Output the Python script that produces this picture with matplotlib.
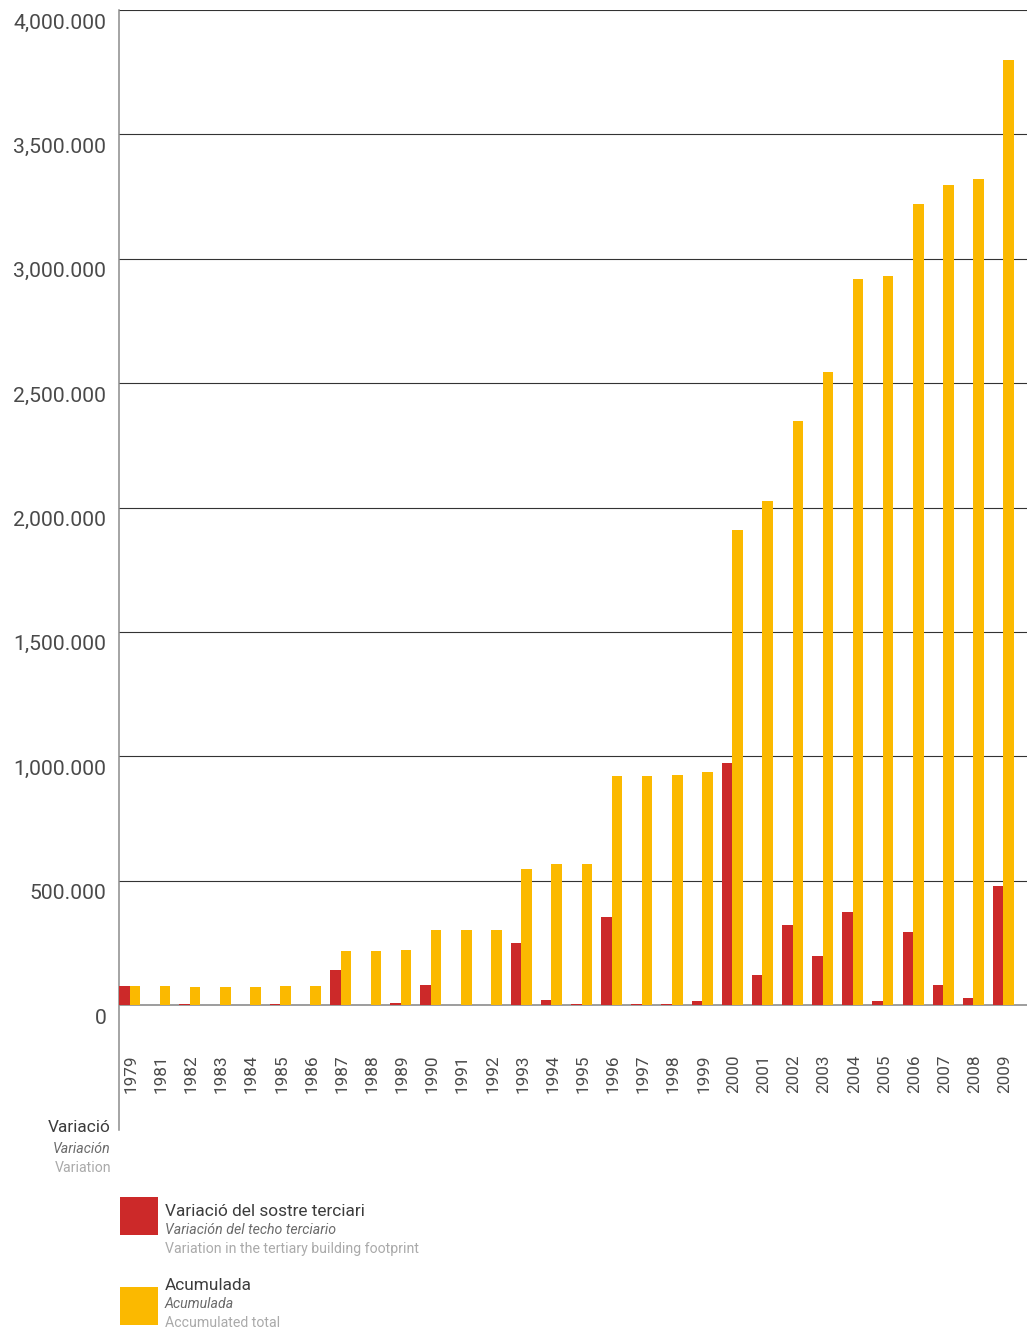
import matplotlib
matplotlib.use("Agg")
import matplotlib.pyplot as plt
from matplotlib.patches import Rectangle
from matplotlib.transforms import ScaledTranslation
import numpy as np

# Years shown on the x axis (1980 is absent in the series)
years = ["1979", "1981", "1982", "1983", "1984", "1985", "1986", "1987", "1988",
         "1989", "1990", "1991", "1992", "1993", "1994", "1995", "1996", "1997",
         "1998", "1999", "2000", "2001", "2002", "2003", "2004", "2005", "2006",
         "2007", "2008", "2009"]

# Yearly variation of tertiary floor space (m2)
variacio = [76000, 1500, 3000, 1000, 1000, 3000, 1000, 141000, 1000,
            8000, 80000, 1000, 1000, 249000, 20000, 3000, 354000, 3000,
            3000, 16000, 973000, 121000, 322000, 197000, 374000, 16000, 293000,
            80000, 28000, 478000]

# Accumulated total (m2)
acumulada = [76000, 76000, 72000, 72000, 72000, 76000, 76000, 217000, 217000,
             221000, 301000, 301000, 301000, 547000, 567000, 567000, 921000, 921000,
             925000, 937000, 1910000, 2026000, 2348000, 2545000, 2919000, 2931000, 3220000,
             3296000, 3321000, 3799000]

ytick_values = [0, 500000, 1000000, 1500000, 2000000, 2500000, 3000000, 3500000, 4000000]
ytick_labels = ["0", "500.000", "1,000.000", "1,500.000", "2,000.000",
                "2,500.000", "3,000.000", "3,500.000", "4,000.000"]

RED = "#CC2929"
YELLOW = "#FBB900"
FONT = "Roboto"
TXT = "#4a4a4a"

W, H = 1035, 1333
fig = plt.figure(figsize=(W / 100, H / 100), dpi=100)
fig.patch.set_facecolor("white")


def fx(px):
    return px / W


def fy(py):
    return 1 - py / H


ax = fig.add_axes([fx(119), fy(1130), fx(1027) - fx(119), (1130 - 10) / H])
ax.set_facecolor("white")

x = np.arange(len(years))
bw = 0.35
ax.bar(x - bw / 2, variacio, width=bw, color=RED, zorder=3, linewidth=0)
ax.bar(x + bw / 2, acumulada, width=bw, color=YELLOW, zorder=3, linewidth=0)

ax.set_xlim(-0.35, 29.78)
ax.set_ylim(-502500, 4000000)

# horizontal reference lines
for v in ytick_values[1:]:
    ax.axhline(v, color="#333333", linewidth=0.8, zorder=1)
ax.axhline(0, color="#8c8c8c", linewidth=1.2, zorder=2)

for s in ["top", "right", "bottom"]:
    ax.spines[s].set_visible(False)
ax.spines["left"].set_color("#8c8c8c")
ax.spines["left"].set_linewidth(1.1)

ax.set_xticks([])
ax.set_yticks(ytick_values)
ax.set_yticklabels(ytick_labels, fontfamily=FONT, fontweight="normal",
                   fontsize=15.2, color=TXT)
ax.tick_params(axis="y", length=0, pad=9)
offset = ScaledTranslation(0, -0.185, fig.dpi_scale_trans)
for lab in ax.get_yticklabels():
    lab.set_va("baseline")
    lab.set_transform(lab.get_transform() + offset)

# year labels, rotated and anchored at their start
y_year = -(1093 - 1005) / 995 * 4000000
for i, yr in enumerate(years):
    ax.text(i + 0.05, y_year, yr, rotation=90, ha="center", va="bottom",
            fontfamily=FONT, fontweight="normal", fontsize=12.3, color=TXT)

# axis caption below the y axis
fig.text(fx(111), fy(1128), "Variació", ha="right", va="center",
         fontfamily=FONT, fontweight="normal", fontsize=12.4, color="#3c3c3c")
fig.text(fx(111), fy(1149), "Variación", ha="right", va="center",
         fontfamily=FONT, fontweight="normal", style="italic", fontsize=10.2, color="#6a6a6a")
fig.text(fx(111), fy(1168), "Variation", ha="right", va="center",
         fontfamily=FONT, fontweight="normal", fontsize=10.2, color="#aaaaaa")

# legend
legend_items = [
    (RED, 1197, 1211, ["Variació del sostre terciari", "Variación del techo terciario",
                       "Variation in the tertiary building footprint"]),
    (YELLOW, 1287, 1285, ["Acumulada", "Acumulada", "Accumulated total"]),
]
for color, top, ycen, texts in legend_items:
    fig.patches.append(Rectangle((fx(120), fy(top + 38)), fx(38), 38 / H,
                                 transform=fig.transFigure, facecolor=color,
                                 edgecolor="none"))
    fig.text(fx(165), fy(ycen), texts[0], ha="left", va="center",
             fontfamily=FONT, fontweight="normal", fontsize=12.4, color="#3c3c3c")
    fig.text(fx(165), fy(ycen + 19), texts[1], ha="left", va="center",
             fontfamily=FONT, fontweight="normal", style="italic", fontsize=10.2, color="#6a6a6a")
    fig.text(fx(165), fy(ycen + 38), texts[2], ha="left", va="center",
             fontfamily=FONT, fontweight="normal", fontsize=10.2, color="#aaaaaa")

fig.savefig("out.png", dpi=100, facecolor="white")
